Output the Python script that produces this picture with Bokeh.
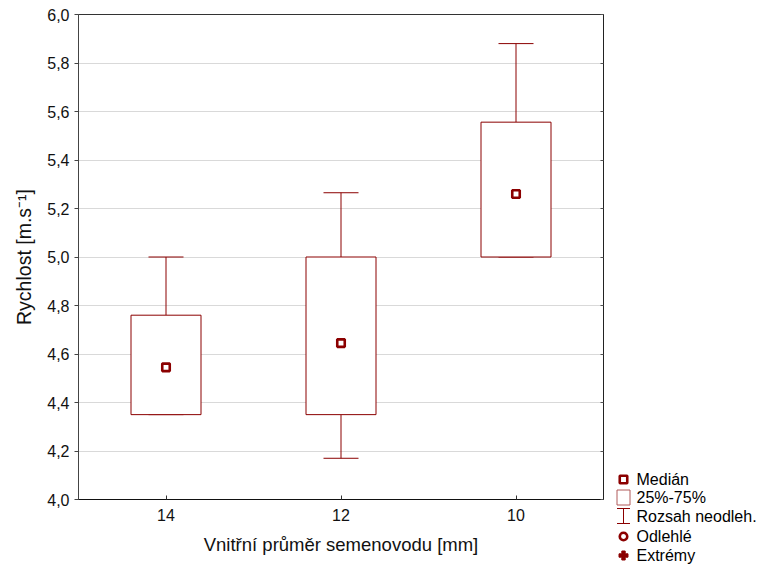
from bokeh.plotting import figure
from bokeh.models import Range1d, FixedTicker, LinearAxis, ColumnDataSource
from bokeh.layouts import row
from bokeh.embed import file_html
from bokeh.resources import INLINE
from bokeh.core.properties import value

# ---- data ----
categories = ["14", "12", "10"]
q1 = [4.35, 4.35, 5.00]
q3 = [4.76, 5.00, 5.556]
whisk_lo = [4.35, 4.17, 5.00]
whisk_hi = [5.00, 5.265, 5.88]
medians = [4.545, 4.645, 5.26]
y_ticks = [4.0, 4.2, 4.4, 4.6, 4.8, 5.0, 5.2, 5.4, 5.6, 5.8, 6.0]
y_tick_labels = ["4,0", "4,2", "4,4", "4,6", "4,8", "5,0", "5,2", "5,4", "5,6", "5,8", "6,0"]
legend_labels = ["Medián", "25%-75%", "Rozsah neodleh.", "Odlehlé", "Extrémy"]

RED = "#8b0000"
FONT = "Liberation Sans"

xs = [i + 0.5 for i in range(len(categories))]
box_w = 0.4
cap_w = 0.2

src = ColumnDataSource(dict(
    x=xs, q1=q1, q3=q3, lo=whisk_lo, hi=whisk_hi, med=medians,
    cl=[x - cap_w / 2 for x in xs], cr=[x + cap_w / 2 for x in xs],
))

W_MAIN, H = 612, 566
p = figure(width=W_MAIN, height=H, output_backend="svg", toolbar_location=None,
           x_range=Range1d(0, len(categories)), y_range=Range1d(4.0, 6.0),
           min_border_left=78, min_border_right=9, min_border_top=14, min_border_bottom=H - 499)
p.outline_line_color = "#333333"
p.outline_line_width = 1
p.background_fill_color = "white"
p.border_fill_color = "white"

# grid
p.xgrid.visible = False
p.ygrid.grid_line_color = "#d9d9d9"
p.ygrid.ticker = FixedTicker(ticks=y_ticks)

# y axis
ya = p.yaxis[0]
ya.ticker = FixedTicker(ticks=y_ticks)
ya.major_label_overrides = {t: l for t, l in zip(y_ticks, y_tick_labels)}
ya.major_tick_out = 4
ya.major_tick_in = 0
ya.minor_tick_line_color = None
ya.major_label_standoff = 5
ya.axis_label = "Rychlost [m.s\u207b\u00b9]"
ya.axis_label_text_font = FONT
ya.axis_label_text_font_style = "normal"
ya.axis_label_text_font_size = "19.5px"
ya.axis_label_text_color = "#111111"
ya.axis_label_standoff = 9
ya.major_label_text_font = FONT
ya.major_label_text_font_size = "16px"
ya.major_label_text_color = "#111111"
ya.axis_line_color = "#444444"
ya.major_tick_line_color = "#444444"

# x axis
xa = p.xaxis[0]
xa.ticker = FixedTicker(ticks=xs)
xa.major_label_overrides = {x: c for x, c in zip(xs, categories)}
xa.major_tick_in = 4
xa.major_tick_out = 0
xa.minor_tick_line_color = None
xa.major_label_standoff = 9
xa.axis_label = "Vnitřní průměr semenovodu [mm]"
xa.axis_label_text_font = FONT
xa.axis_label_text_font_style = "normal"
xa.axis_label_text_font_size = "18.5px"
xa.axis_label_text_color = "#111111"
xa.axis_label_standoff = 10
xa.major_label_text_font = FONT
xa.major_label_text_font_size = "16px"
xa.major_label_text_color = "#111111"
xa.axis_line_color = "#111111"
xa.major_tick_line_color = "#333333"

# right axis (ticks only)
ra = LinearAxis(ticker=FixedTicker(ticks=y_ticks),
                major_label_overrides={t: "" for t in y_ticks},
                major_tick_in=3, major_tick_out=0, minor_tick_line_color=None,
                axis_line_color="#222222", major_tick_line_color="#555555",
                major_label_standoff=0)
p.add_layout(ra, "right")

# whiskers
p.segment(x0="x", y0="q3", x1="x", y1="hi", source=src, line_color=RED, line_width=1)
p.segment(x0="x", y0="lo", x1="x", y1="q1", source=src, line_color=RED, line_width=1)
p.segment(x0="cl", y0="hi", x1="cr", y1="hi", source=src, line_color=RED, line_width=1)
p.segment(x0="cl", y0="lo", x1="cr", y1="lo", source=src, line_color=RED, line_width=1)
# boxes
p.vbar(x="x", width=box_w, bottom="q1", top="q3", source=src,
       fill_color="white", line_color=RED, line_width=1)
# medians
p.scatter(x="x", y="med", source=src, marker="square", size=7.5,
          fill_color="white", line_color=RED, line_width=2.6)

# ---- legend panel (pixel coordinates, y downwards) ----
W_LEG = 756 - W_MAIN
lg = figure(width=W_LEG, height=H, output_backend="svg", toolbar_location=None,
            x_range=Range1d(0, W_LEG), y_range=Range1d(H, 0),
            x_axis_location=None, y_axis_location=None,
            min_border=0, min_border_left=0, min_border_right=0,
            min_border_top=0, min_border_bottom=0)
try:
    lg.frame_align = False
except Exception:
    pass
lg.outline_line_color = None
lg.xgrid.visible = False
lg.ygrid.visible = False
lg.background_fill_color = "white"
lg.border_fill_color = "white"

mx = 11
rows_y = [479, 497, 516, 536, 555]
lg.scatter(x=[mx], y=[rows_y[0]], marker="square", size=7.5, fill_color="white",
           line_color=RED, line_width=2.6)
lg.rect(x=[mx], y=[rows_y[1]], width=13, height=15, fill_color="white",
        line_color="#b05a5a", line_width=1)
lg.segment(x0=[mx], y0=[rows_y[2] - 8], x1=[mx], y1=[rows_y[2] + 7], line_color=RED, line_width=1)
lg.segment(x0=[mx - 6.5, mx - 6.5], y0=[rows_y[2] - 8, rows_y[2] + 7],
           x1=[mx + 6.5, mx + 6.5], y1=[rows_y[2] - 8, rows_y[2] + 7], line_color=RED, line_width=1)
lg.scatter(x=[mx], y=[rows_y[3]], marker="circle", size=7.5, fill_color="white",
           line_color=RED, line_width=2.6)
lg.scatter(x=[mx], y=[rows_y[4]], marker="plus", size=9, fill_color=RED,
           line_color=RED, line_width=1)
lg.text(x=[24] * len(legend_labels), y=rows_y, text=legend_labels,
        text_font=value(FONT), text_font_size="16px", text_baseline="middle",
        text_align="left", text_color="black")

layout = row(p, lg, spacing=0)
open("out.html", "w").write(file_html(layout, INLINE))
